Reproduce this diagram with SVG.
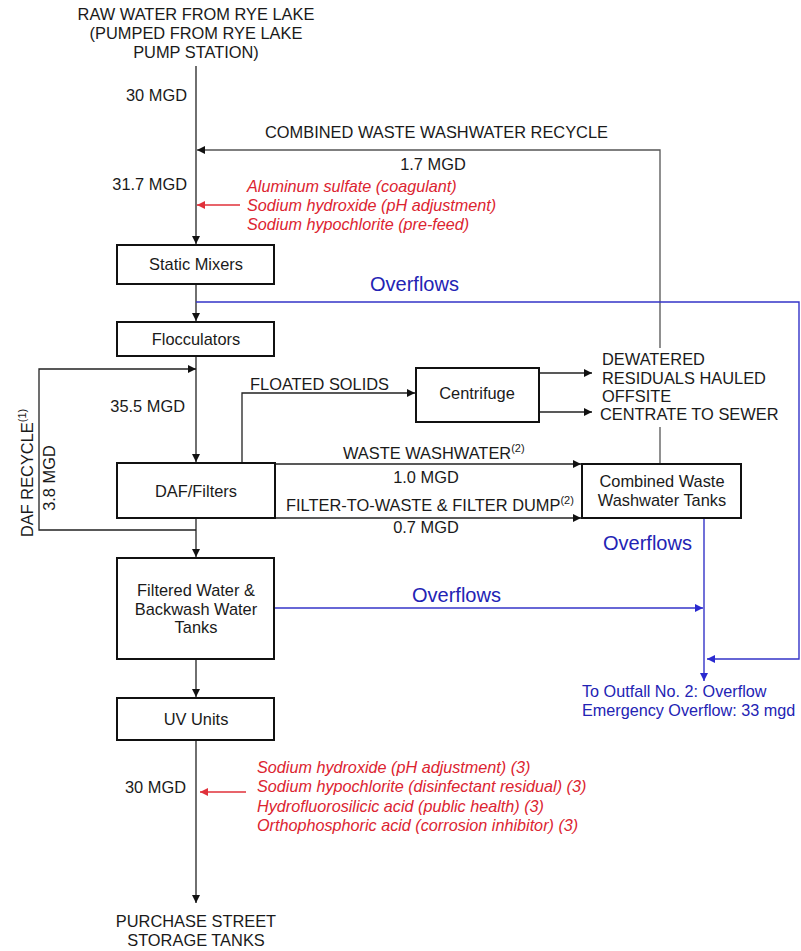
<svg xmlns="http://www.w3.org/2000/svg" width="801" height="951" viewBox="0 0 801 951">
<style>
text{font-family:"Liberation Sans",Arial,sans-serif;font-size:16.4px;fill:#1a1a1a}
.c{text-anchor:middle}
.e{text-anchor:end}
.red{fill:#dc2430;font-style:italic;font-size:16.2px}
.blue{fill:#2323b4;font-size:16.2px}
.ov{fill:#2323b4;font-size:20px}
.sup{font-size:11px}
.box{fill:#fff;stroke:#111;stroke-width:2}
.ln{fill:none;stroke:#222;stroke-width:1.3}
.gl{fill:none;stroke:#555;stroke-width:1.3}
.rl{fill:none;stroke:#e0303a;stroke-width:1.5}
.bl{fill:none;stroke:#3434c8;stroke-width:1.4}
</style>
<defs>
<marker id="ak" viewBox="0 0 10 10" refX="10" refY="5" markerWidth="9" markerHeight="8" markerUnits="userSpaceOnUse" orient="auto"><path d="M0,0 L10,5 L0,10 z" fill="#111"/></marker>
<marker id="ar" viewBox="0 0 10 10" refX="10" refY="5" markerWidth="9" markerHeight="8" markerUnits="userSpaceOnUse" orient="auto"><path d="M0,0 L10,5 L0,10 z" fill="#e0303a"/></marker>
<marker id="ab" viewBox="0 0 10 10" refX="10" refY="5" markerWidth="9" markerHeight="8" markerUnits="userSpaceOnUse" orient="auto"><path d="M0,0 L10,5 L0,10 z" fill="#2a2ad0"/></marker>
</defs>

<g id="connectors">
<path class="ln" d="M196,66 V244" marker-end="url(#ak)"/>
<path class="gl" d="M660,348 V150 H197" marker-end="url(#ak)"/>
<path class="gl" d="M660,427 V464"/>
<path class="rl" d="M240,205 H197" marker-end="url(#ar)"/>
<path class="ln" d="M196,284 V321" marker-end="url(#ak)"/>
<path class="bl" d="M196,302 H799 V659 H707" marker-end="url(#ab)"/>
<path class="ln" d="M196,356 V462" marker-end="url(#ak)"/>
<path class="ln" d="M196,530 H39 V369 H196" marker-end="url(#ak)"/>
<path class="ln" d="M242,463 V393 H415" marker-end="url(#ak)"/>
<path class="ln" d="M539,373 H592" marker-end="url(#ak)"/>
<path class="ln" d="M539,412 H592" marker-end="url(#ak)"/>
<path class="ln" d="M275,464 H581" marker-end="url(#ak)"/>
<path class="ln" d="M275,518 H581" marker-end="url(#ak)"/>
<path class="ln" d="M196,518 V557" marker-end="url(#ak)"/>
<path class="bl" d="M274,608 H703" marker-end="url(#ab)"/>
<path class="bl" d="M704,519 V681" marker-end="url(#ab)"/>
<path class="ln" d="M196,659 V697" marker-end="url(#ak)"/>
<path class="ln" d="M196,740 V903" marker-end="url(#ak)"/>
<path class="rl" d="M246,792 H200" marker-end="url(#ar)"/>
</g>

<g id="source">
<text class="c" x="196" y="20">RAW WATER FROM RYE LAKE</text>
<text class="c" x="196" y="39">(PUMPED FROM RYE LAKE</text>
<text class="c" x="196" y="58">PUMP STATION)</text>
</g>

<g id="static-mixers">
<rect class="box" x="117" y="245" width="157" height="39"/>
<text class="c" x="196" y="270">Static Mixers</text>
</g>

<g id="flocculators">
<rect class="box" x="117" y="322" width="157" height="34"/>
<text class="c" x="196" y="345">Flocculators</text>
</g>

<g id="daf-filters">
<rect class="box" x="117" y="463" width="158" height="55"/>
<text class="c" x="196" y="497">DAF/Filters</text>
</g>

<g id="centrifuge">
<rect class="box" x="416" y="368" width="123" height="54"/>
<text class="c" x="477" y="399">Centrifuge</text>
</g>

<g id="combined-waste-tanks">
<rect class="box" x="582" y="464" width="159" height="54"/>
<text class="c" x="662" y="487">Combined Waste</text>
<text class="c" x="662" y="506">Washwater Tanks</text>
</g>

<g id="filtered-water-tanks">
<rect class="box" x="117" y="558" width="157" height="101"/>
<text class="c" x="196" y="596">Filtered Water &amp;</text>
<text class="c" x="196" y="615">Backwash Water</text>
<text class="c" x="196" y="633">Tanks</text>
</g>

<g id="uv-units">
<rect class="box" x="117" y="698" width="157" height="42"/>
<text class="c" x="196" y="725">UV Units</text>
</g>

<g id="dewatered-residuals">
<rect x="598" y="350" width="174" height="74" fill="#fff"/>
<text x="602" y="365">DEWATERED</text>
<text x="602" y="384">RESIDUALS HAULED</text>
<text x="602" y="402">OFFSITE</text>
<text x="600" y="420">CENTRATE TO SEWER</text>
</g>

<g id="outfall">
<text class="blue" x="582" y="697">To Outfall No. 2: Overflow</text>
<text class="blue" x="582" y="716">Emergency Overflow: 33 mgd</text>
</g>

<g id="purchase-street">
<text class="c" x="196" y="927">PURCHASE STREET</text>
<text class="c" x="196" y="946">STORAGE TANKS</text>
</g>

<g id="labels">
<text class="e" x="187" y="101">30 MGD</text>
<text x="265" y="138">COMBINED WASTE WASHWATER RECYCLE</text>
<text class="c" x="433" y="170">1.7 MGD</text>
<text class="e" x="187" y="190">31.7 MGD</text>
<text class="red" x="247" y="192">Aluminum sulfate (coagulant)</text>
<text class="red" x="247" y="211">Sodium hydroxide (pH adjustment)</text>
<text class="red" x="247" y="230">Sodium hypochlorite (pre-feed)</text>
<text class="ov" x="370" y="291">Overflows</text>
<text class="e" x="185" y="412">35.5 MGD</text>
<text x="250" y="390">FLOATED SOLIDS</text>
<text transform="translate(33,537) rotate(-90)">DAF RECYCLE<tspan class="sup" dy="-7">(1)</tspan></text>
<text class="c" transform="translate(55,478) rotate(-90)">3.8 MGD</text>
<text x="343" y="459">WASTE WASHWATER<tspan class="sup" dy="-7">(2)</tspan></text>
<text class="c" x="426" y="483">1.0 MGD</text>
<text x="286" y="511">FILTER-TO-WASTE &amp; FILTER DUMP<tspan class="sup" dy="-7">(2)</tspan></text>
<text class="c" x="426" y="533">0.7 MGD</text>
<text class="ov" x="603" y="550">Overflows</text>
<text class="ov" x="412" y="602">Overflows</text>
<text class="e" x="186" y="793">30 MGD</text>
<text class="red" x="257" y="773">Sodium hydroxide (pH adjustment) (3)</text>
<text class="red" x="257" y="792">Sodium hypochlorite (disinfectant residual) (3)</text>
<text class="red" x="257" y="812">Hydrofluorosilicic acid (public health) (3)</text>
<text class="red" x="257" y="831">Orthophosphoric acid (corrosion inhibitor) (3)</text>
</g>
</svg>
